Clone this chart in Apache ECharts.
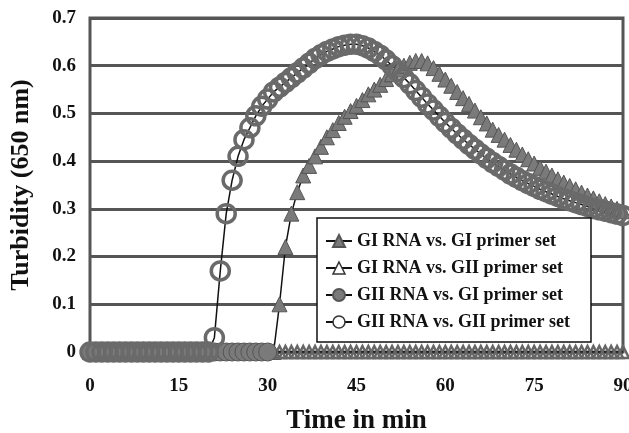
<!DOCTYPE html>
<html>
<head>
<meta charset="utf-8">
<script src="https://cdn.jsdelivr.net/npm/echarts@6/dist/echarts.min.js"></script>
<style>
html,body{margin:0;padding:0;background:#fff;}
#chart{width:629px;height:433px;}
</style>
</head>
<body>
<div id="chart"></div>
<script>
// Time (min)
var times = [0,1,2,3,4,5,6,7,8,9,10,11,12,13,14,15,16,17,18,19,20,21,22,23,24,25,26,27,28,29,30,
  31,32,33,34,35,36,37,38,39,40,41,42,43,44,45,46,47,48,49,50,51,52,53,54,55,56,57,58,59,60,
  61,62,63,64,65,66,67,68,69,70,71,72,73,74,75,76,77,78,79,80,81,82,83,84,85,86,87,88,89,90];

// GI RNA vs. GI primer set (filled triangle)
var giGi = [0,0,0,0,0,0,0,0,0,0,0,0,0,0,0,0,0,0,0,0,0,0,0,0,0,0,0,0,0,0,0,0,
  0.10,0.22,0.29,0.335,0.37,0.39,0.41,0.43,0.45,0.465,0.48,0.493,0.505,0.516,0.528,0.54,0.55,0.56,
  0.572,0.582,0.592,0.60,0.606,0.61,0.61,0.605,0.595,0.583,0.571,0.558,0.545,0.532,0.52,0.506,
  0.492,0.479,0.466,0.455,0.445,0.434,0.424,0.414,0.404,0.395,0.386,0.378,0.37,0.362,0.355,
  0.348,0.341,0.334,0.328,0.322,0.316,0.31,0.305,0.30,0.295];

// GI RNA vs. GII primer set (open triangle)
var giGii = [0,0,0,0,0,0,0,0,0,0,0,0,0,0,0,0,0,0,0,0,0,0,0,0,0,0,0,0,0,0,0,
  0,0,0,0,0,0,0,0,0,0,0,0,0,0,0,0,0,0,0,0,0,0,0,0,0,0,0,0,0,0,
  0,0,0,0,0,0,0,0,0,0,0,0,0,0,0,0,0,0,0,0,0,0,0,0,0,0,0,0,0,0];

// GII RNA vs. GI primer set (filled circle)
var giiGi = [0,0,0,0,0,0,0,0,0,0,0,0,0,0,0,0,0,0,0,0,0,0,0,0,0,0,0,0,0,0,0];

// GII RNA vs. GII primer set (open circle)
var giiGii = [0,0,0,0,0,0,0,0,0,0,0,0,0,0,0,0,0,0,0,0,0,
  0.03,0.17,0.29,0.36,0.41,0.445,0.47,0.495,0.515,0.53,0.545,0.555,0.565,0.575,0.585,0.595,
  0.605,0.615,0.623,0.63,0.635,0.64,0.643,0.645,0.645,0.642,0.637,0.63,0.622,0.612,0.60,
  0.588,0.575,0.562,0.548,0.534,0.52,0.507,0.494,0.481,0.469,0.457,0.446,0.435,0.425,0.415,
  0.406,0.397,0.389,0.381,0.373,0.366,0.359,0.353,0.347,0.341,0.336,0.331,0.326,0.321,0.317,
  0.313,0.309,0.305,0.301,0.298,0.295,0.292,0.289,0.286];

var seriesNames = ['GI RNA vs. GI primer set','GI RNA vs. GII primer set','GII RNA vs. GI primer set','GII RNA vs. GII primer set'];
var xTicks = [0,15,30,45,60,75,90];
var yTicks = [0,0.1,0.2,0.3,0.4,0.5,0.6,0.7];

function pairs(vals){ return vals.map(function(v,i){ return [times[i], v]; }); }

var serif = "'Liberation Serif','DejaVu Serif','Times New Roman',serif";

var chart = echarts.init(document.getElementById('chart'), null, {renderer:'canvas'});
chart.setOption({
  animation:false,
  backgroundColor:'#fff',
  grid:{left:90,right:6,top:18,bottom:81,show:true,borderColor:'#555',borderWidth:3,
    backgroundColor:'transparent',outerBoundsMode:'none',containLabel:false},
  xAxis:{
    type:'value',min:0,max:90,interval:15,
    name:'Time in min',nameLocation:'middle',nameGap:56,
    nameTextStyle:{fontFamily:serif,fontWeight:'bold',fontSize:27,color:'#111'},
    axisLine:{show:false},axisTick:{show:false},splitLine:{show:false},
    axisLabel:{fontFamily:serif,fontWeight:'bold',fontSize:19,color:'#111',margin:25,
      formatter:function(v){ return xTicks.indexOf(v)>=0 ? String(v) : ''; }}
  },
  yAxis:{
    type:'value',min:0,max:0.7,interval:0.1,
    name:'Turbidity (650 nm)',nameLocation:'middle',nameGap:56,
    nameTextStyle:{fontFamily:serif,fontWeight:'bold',fontSize:26,color:'#111'},
    axisLine:{show:false},axisTick:{show:false},
    splitLine:{show:true,lineStyle:{color:'#555',width:3}},
    axisLabel:{fontFamily:serif,fontWeight:'bold',fontSize:19,color:'#111',margin:14,
      formatter:function(v){ var r=Math.round(v*10)/10; return yTicks.indexOf(r)>=0 ? String(r) : ''; }}
  },
  legend:{
    orient:'vertical',left:317,top:218,
    backgroundColor:'#fff',borderColor:'#111',borderWidth:1.5,
    padding:[14,21,11,8],itemGap:9,itemWidth:26,itemHeight:15,
    textStyle:{fontFamily:serif,fontWeight:'bold',fontSize:18,color:'#111'},
    data:[
      {name:seriesNames[0]},
      {name:seriesNames[1],itemStyle:{color:'#fff',borderColor:'#333',borderWidth:1.5}},
      {name:seriesNames[2]},
      {name:seriesNames[3],itemStyle:{color:'#fff',borderColor:'#333',borderWidth:1.5}}
    ]
  },
  series:[
    {name:seriesNames[0],type:'line',data:pairs(giGi),symbol:'triangle',symbolSize:15,
      lineStyle:{color:'#111',width:1.5},
      itemStyle:{color:'#7a7a7a',borderColor:'#555',borderWidth:1}},
    {name:seriesNames[1],type:'line',data:pairs(giGii),symbol:'triangle',symbolSize:12,
      lineStyle:{color:'#111',width:1.5},
      itemStyle:{color:'rgba(255,255,255,0)',borderColor:'#666',borderWidth:2.5}},
    {name:seriesNames[2],type:'line',data:pairs(giiGi),symbol:'circle',symbolSize:18,
      lineStyle:{color:'#111',width:1.5},
      itemStyle:{color:'#7a7a7a',borderColor:'#555',borderWidth:1}},
    {name:seriesNames[3],type:'line',data:pairs(giiGii),symbol:'circle',symbolSize:18,
      lineStyle:{color:'#111',width:1.5},
      itemStyle:{color:'rgba(255,255,255,0)',borderColor:'#6a6a6a',borderWidth:3.5}}
  ]
});
</script>
</body>
</html>
